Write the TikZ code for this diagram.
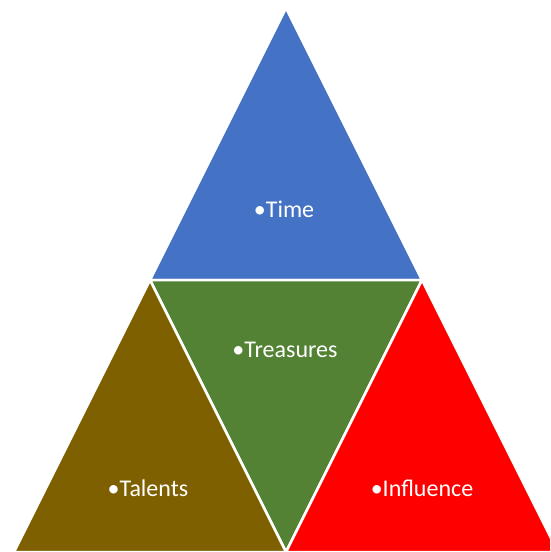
\documentclass[tikz,border=0pt]{standalone}
\usepackage{fontspec}
\setmainfont{Carlito}
\begin{document}
\begin{tikzpicture}[x=1pt,y=-1pt,
  seg/.style={draw=white,line width=2.5pt,line join=miter},
  lbl/.style={text=white,anchor=base,font=\fontsize{24}{28}\selectfont,inner sep=0pt}]
\useasboundingbox (0,0) rectangle (550,552);
\clip (0,0) rectangle (550,552);
\coordinate (A) at (286,8);
\coordinate (L) at (150,280);
\coordinate (R) at (422,280);
\coordinate (B) at (286,552);
\coordinate (BL) at (14,552);
\coordinate (BR) at (558,552);
\fill[seg,fill={rgb,255:red,68;green,114;blue,196}] (A) -- (L) -- (R) -- cycle;
\fill[seg,fill={rgb,255:red,84;green,130;blue,53}] (L) -- (R) -- (B) -- cycle;
\fill[seg,fill={rgb,255:red,127;green,96;blue,0}] (L) -- (BL) -- (B) -- cycle;
\fill[seg,fill={rgb,255:red,255;green,0;blue,0}] (R) -- (B) -- (BR) -- cycle;
\node[lbl] (time) at (284,217) {•Time};
\node[lbl] (treasures) at (285,357) {•Treasures};
\node[lbl] (talents) at (148,496) {•Talents};
\node[lbl] (influence) at (422,496) {•Influence};
\end{tikzpicture}
\end{document}
